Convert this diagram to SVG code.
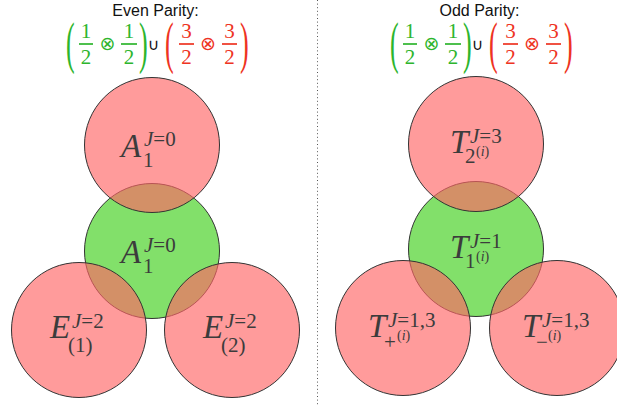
<svg xmlns="http://www.w3.org/2000/svg" width="617" height="405" viewBox="0 0 617 405">
<style>
.red{fill:#ff6666;fill-opacity:0.65;stroke:#333;stroke-width:1}
.grn{fill:#82e06a;stroke:#333;stroke-width:1}
.title{font-family:"Liberation Sans",Arial,sans-serif;font-size:16px;fill:#111;text-anchor:middle}
.m{font-family:"Liberation Serif","Times New Roman",serif;fill:#3c3c3c}
.big{font-size:33px;font-style:italic}
.sc{font-size:21px}
.ss{font-size:14px}
.it{font-style:italic}
.num{font-family:"Liberation Serif","Times New Roman",serif;font-size:21px;text-anchor:middle}
.g{fill:#2db52d}
.r{fill:#ee3322}
.par{font-family:"Liberation Serif","Times New Roman",serif;font-size:58px}
.ot{font-family:"DejaVu Sans",sans-serif;font-size:19px;text-anchor:middle}
.cup{font-family:"DejaVu Sans",sans-serif;font-size:16px;fill:#111;text-anchor:middle}
.barg{stroke:#2db52d;stroke-width:1.7}
.barr{stroke:#ee3322;stroke-width:1.7}
</style>
<rect width="617" height="405" fill="#fff"/>
<g id="divider"><line x1="317.5" y1="0" x2="317.5" y2="405" stroke="#555" stroke-width="1" stroke-dasharray="1 2.6"/></g>

<g id="even-header">
<text class="title" x="155.5" y="16">Even Parity:</text>
<g id="even-formula">
<text class="par g" transform="translate(66,62) scale(0.45,1)">(</text>
<text class="num g" x="86" y="38">1</text><line class="barg" x1="79" y1="44" x2="93" y2="44"/><text class="num g" x="86" y="64">2</text>
<text class="ot g" x="107.5" y="50">⊗</text>
<text class="num g" x="129" y="38">1</text><line class="barg" x1="121" y1="44" x2="137" y2="44"/><text class="num g" x="129" y="64">2</text>
<text class="par g" transform="translate(139,62) scale(0.45,1)">)</text>
<text class="cup" x="153.5" y="50">∪</text>
<text class="par r" transform="translate(165,62) scale(0.45,1)">(</text>
<text class="num r" x="186.5" y="38">3</text><line class="barr" x1="179" y1="44" x2="194" y2="44"/><text class="num r" x="186.5" y="64">2</text>
<text class="ot r" x="208" y="50">⊗</text>
<text class="num r" x="229.5" y="38">3</text><line class="barr" x1="222" y1="44" x2="237" y2="44"/><text class="num r" x="229.5" y="64">2</text>
<text class="par r" transform="translate(240,62) scale(0.45,1)">)</text>
</g>
</g>

<g id="odd-header">
<text class="title" x="479.5" y="16">Odd Parity:</text>
<g id="odd-formula" transform="translate(324,0)">
<text class="par g" transform="translate(66,62) scale(0.45,1)">(</text>
<text class="num g" x="86" y="38">1</text><line class="barg" x1="79" y1="44" x2="93" y2="44"/><text class="num g" x="86" y="64">2</text>
<text class="ot g" x="107.5" y="50">⊗</text>
<text class="num g" x="129" y="38">1</text><line class="barg" x1="121" y1="44" x2="137" y2="44"/><text class="num g" x="129" y="64">2</text>
<text class="par g" transform="translate(139,62) scale(0.45,1)">)</text>
<text class="cup" x="153.5" y="50">∪</text>
<text class="par r" transform="translate(165,62) scale(0.45,1)">(</text>
<text class="num r" x="186.5" y="38">3</text><line class="barr" x1="179" y1="44" x2="194" y2="44"/><text class="num r" x="186.5" y="64">2</text>
<text class="ot r" x="208" y="50">⊗</text>
<text class="num r" x="229.5" y="38">3</text><line class="barr" x1="222" y1="44" x2="237" y2="44"/><text class="num r" x="229.5" y="64">2</text>
<text class="par r" transform="translate(240,62) scale(0.45,1)">)</text>
</g>
</g>

<g id="even-A1-center"><circle class="grn" cx="152" cy="251" r="67.5"/></g>
<g id="even-A1-top"><circle class="red" cx="152" cy="145" r="67.5"/></g>
<g id="even-E1"><circle class="red" cx="79" cy="330" r="67.5"/></g>
<g id="even-E2"><circle class="red" cx="232" cy="330" r="67.5"/></g>

<g id="odd-T1-center"><circle class="grn" cx="476" cy="249" r="67.5"/></g>
<g id="odd-T2-top"><circle class="red" cx="476" cy="144" r="67.5"/></g>
<g id="odd-Tplus"><circle class="red" cx="403" cy="328" r="67.5"/></g>
<g id="odd-Tminus"><circle class="red" cx="557" cy="328" r="67.5"/></g>

<g id="labels" class="m">
<text x="121" y="157" class="big">A</text><text x="144" y="146" class="sc"><tspan class="it">J</tspan>=0</text><text x="143" y="167" class="sc">1</text>
<text x="121" y="263" class="big">A</text><text x="144" y="252" class="sc"><tspan class="it">J</tspan>=0</text><text x="143" y="273" class="sc">1</text>
<text x="50" y="338" class="big">E</text><text x="72" y="328" class="sc"><tspan class="it">J</tspan>=2</text><text x="68" y="352" class="sc">(1)</text>
<text x="203" y="338" class="big">E</text><text x="225" y="328" class="sc"><tspan class="it">J</tspan>=2</text><text x="221" y="352" class="sc">(2)</text>
<text x="450" y="153" class="big">T</text><text x="470" y="143" class="sc"><tspan class="it">J</tspan>=3</text><text x="465" y="163" class="sc">2</text><text x="476" y="156" class="ss">(<tspan class="it">i</tspan>)</text>
<text x="450" y="258" class="big">T</text><text x="470" y="248" class="sc"><tspan class="it">J</tspan>=1</text><text x="465" y="268" class="sc">1</text><text x="476" y="261" class="ss">(<tspan class="it">i</tspan>)</text>
<text x="368" y="337" class="big">T</text><text x="388" y="327" class="sc"><tspan class="it">J</tspan>=1,3</text><text x="384" y="349" class="sc">+</text><text x="397" y="340" class="ss">(<tspan class="it">i</tspan>)</text>
<text x="522" y="337" class="big">T</text><text x="542" y="327" class="sc"><tspan class="it">J</tspan>=1,3</text><text x="536" y="349" class="sc">−</text><text x="548" y="340" class="ss">(<tspan class="it">i</tspan>)</text>
</g>
</svg>
